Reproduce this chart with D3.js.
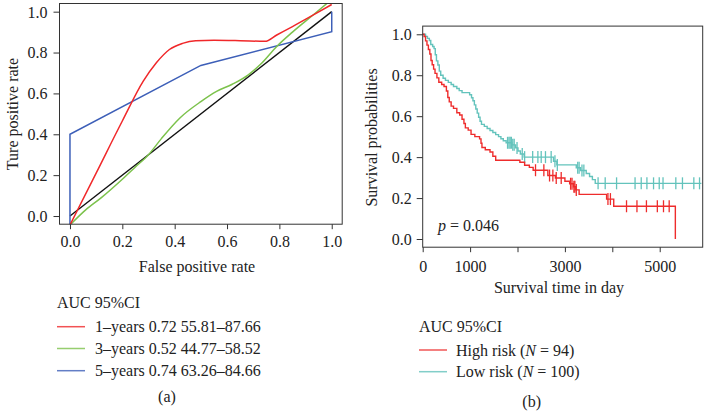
<!DOCTYPE html>
<html>
<head>
<meta charset="utf-8">
<script src="https://cdn.jsdelivr.net/npm/d3@7"></script>
<style>
  html, body { margin: 0; padding: 0; background: #fff; }
  text { font-family: "Liberation Serif", "DejaVu Serif", serif; fill: #222; }
</style>
</head>
<body>
<svg id="chart" width="705" height="412"></svg>
<script>
// ---------- Data: panel (a) ROC ----------
const rocTicks = [0, 0.2, 0.4, 0.6, 0.8, 1.0];
const roc1yFPR = [0, 0.1, 0.2, 0.28, 0.33, 0.38, 0.43, 0.48, 0.55, 0.65, 0.745, 0.79, 0.85, 0.93, 1.0];
const roc1yTPR = [-0.044, 0.21, 0.465, 0.66, 0.75, 0.815, 0.845, 0.858, 0.86, 0.858, 0.855, 0.886, 0.927, 0.984, 1.035];
const roc3yFPR = [0, 0.06, 0.12, 0.2, 0.25, 0.3, 0.35, 0.42, 0.5, 0.56, 0.62, 0.68, 0.73, 0.79, 0.85, 0.93, 1.0];
const roc3yTPR = [-0.044, 0.03, 0.09, 0.18, 0.24, 0.3, 0.38, 0.48, 0.56, 0.61, 0.645, 0.69, 0.745, 0.83, 0.9, 0.985, 1.06];
const roc5yFPR = [0, 0, 0.5, 1.0, 1.0];
const roc5yTPR = [-0.044, 0.4, 0.737, 0.902, 1.0];
const refFPR = [0, 1];
const refTPR = [0, 1];
const rocLegend = ["1\u2013years 0.72 55.81\u201387.66", "3\u2013years 0.52 44.77\u201358.52", "5\u2013years 0.74 63.26\u201384.66"];

// ---------- Data: panel (b) Kaplan-Meier ----------
const kmTicks = [0, 1000, 2000, 3000, 4000, 5000];
const kmTickLabels = ["0", "1000", "", "3000", "", "5000"];
const survTicks = [0, 0.2, 0.4, 0.6, 0.8, 1.0];
const highTime = [0, 30, 60, 90, 120, 150, 175, 200, 230, 260, 300, 340, 400, 450, 500, 530, 560, 600, 650, 720, 780, 830, 870, 900, 960, 1020, 1100, 1200, 1230, 1250, 1320, 1420, 1480, 1540, 2050, 2150, 2250, 2330, 2640, 2800, 3000, 3100, 3180, 3230, 3300, 3880, 4030, 5330, 5330];
const highSurv = [1.0, 0.989, 0.968, 0.947, 0.926, 0.904, 0.872, 0.851, 0.83, 0.809, 0.787, 0.766, 0.755, 0.745, 0.723, 0.691, 0.67, 0.649, 0.638, 0.617, 0.606, 0.585, 0.564, 0.543, 0.532, 0.511, 0.5, 0.489, 0.468, 0.447, 0.436, 0.425, 0.404, 0.385, 0.375, 0.36, 0.35, 0.336, 0.31, 0.298, 0.282, 0.27, 0.255, 0.24, 0.218, 0.195, 0.16, 0.16, 0.0];
const highCensor = [2380, 2556, 2676, 2746, 2817, 2922, 3120, 3150, 3190, 3210, 3240, 3908, 3960, 4300, 4520, 4720, 4950, 5080, 5200];
const lowTime = [0, 60, 100, 140, 170, 210, 240, 265, 290, 320, 350, 380, 430, 480, 540, 600, 650, 720, 770, 830, 990, 1030, 1060, 1090, 1120, 1150, 1180, 1210, 1240, 1300, 1360, 1420, 1480, 1540, 1600, 1650, 1700, 1760, 1880, 1960, 2010, 2060, 2140, 2760, 2830, 3240, 3330, 3450, 3520, 3580, 3640, 5880];
const lowSurv = [1.0, 0.99, 0.98, 0.97, 0.95, 0.94, 0.93, 0.9, 0.87, 0.85, 0.82, 0.8, 0.785, 0.775, 0.765, 0.755, 0.745, 0.735, 0.725, 0.715, 0.705, 0.69, 0.675, 0.655, 0.635, 0.615, 0.595, 0.575, 0.56, 0.55, 0.54, 0.53, 0.52, 0.51, 0.5, 0.49, 0.48, 0.47, 0.46, 0.445, 0.43, 0.415, 0.4, 0.38, 0.362, 0.348, 0.335, 0.32, 0.305, 0.29, 0.272, 0.272];
const lowCensor = [1790, 1820, 1845, 1870, 1900, 1930, 1990, 2100, 2150, 2320, 2430, 2500, 2590, 2710, 2790, 2840, 3270, 3300, 3360, 3400, 3700, 3850, 4090, 4480, 4610, 4730, 4870, 4990, 5070, 5340, 5480, 5720, 5840];
const kmLegend = ["High risk (", "Low risk ("];
const kmN = ["94", "100"];

// ---------- Styles ----------
const C = { red: "#f0282a", green: "#7cc24c", blue: "#3d5fb8", black: "#111", kmRed: "#ee2c2c", kmCyan: "#63c3bc", frame: "#333" };
const FS = 16;

const svg = d3.select("#chart");
svg.append("rect").attr("width", 705).attr("height", 412).attr("fill", "#fff");

function frame(x0, x1, y0, y1) {
  svg.append("rect").attr("x", x0).attr("y", y1).attr("width", x1 - x0).attr("height", y0 - y1)
    .attr("fill", "none").attr("stroke", C.frame).attr("stroke-width", 1);
}
function styleAxis(g) {
  g.select(".domain").remove();
  g.selectAll("line").attr("stroke", C.frame);
  g.selectAll("text").attr("font-size", FS).attr("font-family", "Liberation Serif").attr("fill", "#222");
}

// ---------- Panel (a) ----------
const xA = d3.scaleLinear().domain([-0.04, 1.04]).range([59.5, 342.2]);
const yA = d3.scaleLinear().domain([-0.04, 1.04]).range([224.2, 3.5]);

svg.append("clipPath").attr("id", "clipA").append("rect")
  .attr("x", xA.range()[0]).attr("y", yA.range()[1])
  .attr("width", xA.range()[1] - xA.range()[0]).attr("height", yA.range()[0] - yA.range()[1]);

const gA = svg.append("g").attr("clip-path", "url(#clipA)");
const rocLine = d3.line().x(d => xA(d[0])).y(d => yA(d[1]));
const rocSmooth = d3.line().x(d => xA(d[0])).y(d => yA(d[1])).curve(d3.curveMonotoneX);
const zip = (a, b) => a.map((v, i) => [v, b[i]]);

gA.append("path").datum(zip(refFPR, refTPR)).attr("d", rocLine).attr("fill", "none").attr("stroke", C.black).attr("stroke-width", 1.4);
gA.append("path").datum(zip(roc5yFPR, roc5yTPR)).attr("d", rocLine).attr("fill", "none").attr("stroke", C.blue).attr("stroke-width", 1.5);
gA.append("path").datum(zip(roc3yFPR, roc3yTPR)).attr("d", rocSmooth).attr("fill", "none").attr("stroke", C.green).attr("stroke-width", 1.5);
gA.append("path").datum(zip(roc1yFPR, roc1yTPR)).attr("d", rocSmooth).attr("fill", "none").attr("stroke", C.red).attr("stroke-width", 1.5);

frame(xA.range()[0], xA.range()[1], yA.range()[0], yA.range()[1]);

const axA_x = svg.append("g").attr("transform", `translate(0,${yA.range()[0]})`)
  .call(d3.axisBottom(xA).tickValues(rocTicks).tickFormat(d3.format(".1f")).tickSize(5));
styleAxis(axA_x);
axA_x.selectAll("text").attr("y", 23).attr("dy", 0);

const axA_y = svg.append("g").attr("transform", `translate(${xA.range()[0]},0)`)
  .call(d3.axisLeft(yA).tickValues(rocTicks).tickFormat(d3.format(".1f")).tickSize(6));
styleAxis(axA_y);
axA_y.selectAll("text").attr("x", -12).attr("dy", "0.34em");

svg.append("text").attr("x", 197).attr("y", 272).attr("text-anchor", "middle").attr("font-size", FS).text("False positive rate");
svg.append("text").attr("transform", "translate(12,114) rotate(-90)").attr("dy", "0.35em").attr("text-anchor", "middle").attr("font-size", FS).text("Ture positive rate");

// Legend (a)
svg.append("text").attr("x", 57).attr("y", 308).attr("font-size", FS).text("AUC 95%CI");
const legAcol = [C.red, C.green, C.blue];
const legAy = [326.7, 348.5, 370.7];
rocLegend.forEach((t, i) => {
  svg.append("line").attr("x1", 57).attr("x2", 85).attr("y1", legAy[i]).attr("y2", legAy[i]).attr("stroke", legAcol[i]).attr("stroke-width", 1.5).attr("opacity", 0.8);
  svg.append("text").attr("x", 95).attr("y", legAy[i] + 5.5).attr("font-size", FS).text(t);
});
svg.append("text").attr("x", 167).attr("y", 401.5).attr("text-anchor", "middle").attr("font-size", FS).text("(a)");

// ---------- Panel (b) ----------
const xB = d3.scaleLinear().domain([0, 5907]).range([422.7, 702.7]);
const yB = d3.scaleLinear().domain([-0.04, 1.04]).range([247.2, 26.1]);

function survAt(times, survs, t) {
  let s = survs[0];
  for (let i = 0; i < times.length; i++) { if (times[i] <= t) s = survs[i]; else break; }
  return s;
}
const kmLine = d3.line().x(d => xB(d[0])).y(d => yB(d[1])).curve(d3.curveStepAfter);

function drawKM(times, survs, censor, color) {
  svg.append("path").datum(zip(times, survs)).attr("d", kmLine).attr("fill", "none").attr("stroke", color).attr("stroke-width", 1.4);
  svg.append("g").selectAll("line").data(censor).join("line")
    .attr("x1", d => xB(d)).attr("x2", d => xB(d))
    .attr("y1", d => yB(survAt(times, survs, d)) - 6)
    .attr("y2", d => yB(survAt(times, survs, d)) + 6)
    .attr("stroke", color).attr("stroke-width", 1.3);
}
drawKM(lowTime, lowSurv, lowCensor, C.kmCyan);
drawKM(highTime, highSurv, highCensor, C.kmRed);

frame(xB.range()[0], xB.range()[1], yB.range()[0], yB.range()[1]);

const axB_x = svg.append("g").attr("transform", `translate(0,${yB.range()[0]})`)
  .call(d3.axisBottom(xB).tickValues(kmTicks).tickFormat((d, i) => kmTickLabels[i]).tickSize(5));
styleAxis(axB_x);
axB_x.selectAll("text").attr("y", 25).attr("dy", 0);

const axB_y = svg.append("g").attr("transform", `translate(${xB.range()[0]},0)`)
  .call(d3.axisLeft(yB).tickValues(survTicks).tickFormat(d3.format(".1f")).tickSize(6));
styleAxis(axB_y);
axB_y.selectAll("text").attr("x", -11).attr("dy", "0.34em");

svg.append("text").attr("x", 559).attr("y", 293).attr("text-anchor", "middle").attr("font-size", FS).text("Survival time in day");
svg.append("text").attr("transform", "translate(371,137.5) rotate(-90)").attr("dy", "0.35em").attr("text-anchor", "middle").attr("font-size", FS).text("Survival probabilities");

const pt = svg.append("text").attr("x", 438).attr("y", 231).attr("font-size", FS);
pt.append("tspan").attr("font-style", "italic").text("p");
pt.append("tspan").text(" = 0.046");

// Legend (b)
svg.append("text").attr("x", 419).attr("y", 332).attr("font-size", FS).text("AUC 95%CI");
const legBcol = [C.kmRed, C.kmCyan];
const legBy = [350, 371.7];
kmLegend.forEach((t, i) => {
  svg.append("line").attr("x1", 419).attr("x2", 447).attr("y1", legBy[i]).attr("y2", legBy[i]).attr("stroke", legBcol[i]).attr("stroke-width", 1.5).attr("opacity", 0.8);
  const tx = svg.append("text").attr("x", 456).attr("y", legBy[i] + 5.5).attr("font-size", FS);
  tx.append("tspan").text(t);
  tx.append("tspan").attr("font-style", "italic").text("N");
  tx.append("tspan").text(" = " + kmN[i] + ")");
});
svg.append("text").attr("x", 531.7).attr("y", 407).attr("text-anchor", "middle").attr("font-size", FS).text("(b)");
</script>
</body>
</html>
